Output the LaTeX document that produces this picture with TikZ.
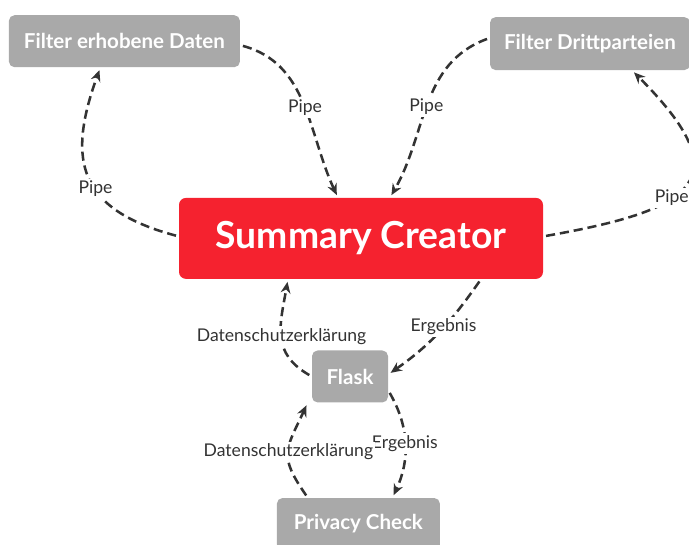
\documentclass[tikz,border=0pt]{standalone}
\usepackage{fontspec}
\setmainfont{Lato}
\usetikzlibrary{arrows.meta, positioning}
\definecolor{boxgrey}{HTML}{A9A9A9}
\definecolor{creatorred}{HTML}{F5222F}
\definecolor{linegrey}{HTML}{333333}

\begin{document}
\begin{tikzpicture}[
greybox/.style={rectangle, rounded corners=4pt, fill=boxgrey, text=white,
inner sep=2pt, minimum height=1.3cm, font=\fontsize{14.6}{17}\selectfont\bfseries},
redbox/.style={rectangle, rounded corners=5pt, fill=creatorred, text=white,
minimum width=9.1cm, minimum height=2.025cm, font=\fontsize{26.5}{31}\selectfont\bfseries},
arr/.style={-{Stealth[length=8pt, width=7pt]}, draw=linegrey, line width=1.8pt,
dash pattern=on 6.5pt off 3.5pt, shorten <=2pt, shorten >=2pt},
lbl/.style={fill=white, inner sep=1.5pt, text=linegrey, font=\fontsize{12.5}{14}\selectfont}
]
\useasboundingbox (0,0) rectangle (17.225,-13.625);

\node[redbox] (SC) at (9.025,-5.96) {Summary Creator};
\node[greybox, minimum width=5.775cm] (FE) at (3.11,-1.03) {Filter erhobene Daten};
\node[greybox, minimum width=5cm, minimum height=1.325cm] (FD) at (14.75,-1.09) {Filter Drittparteien};
\node[greybox, minimum width=1.9cm, below=1.775cm of SC, xshift=-0.275cm] (FL) {Flask};
\node[greybox, minimum width=4.075cm, below=2.375cm of FL, xshift=0.21cm] (PC) {Privacy Check};

\draw[arr] ([yshift=0.05cm]SC.west) to[out=165, in=-110, looseness=1.4]
node[lbl, pos=0.43] {Pipe} ([xshift=-0.6cm]FE.south);
\draw[arr] ([yshift=-0.1cm]FE.east) to[out=-15, in=115]
node[lbl, pos=0.52] {Pipe} ([xshift=-0.575cm]SC.north);
\draw[arr] ([yshift=0.14cm]FD.west) to[out=200, in=60]
node[lbl, pos=0.52] {Pipe} ([xshift=0.725cm]SC.north);
\draw[arr] ([yshift=0.05cm]SC.east) to[out=10, in=-45, looseness=2.1]
node[lbl, pos=0.4] {Pipe} ([xshift=1.05cm]FD.south);
\draw[arr] ([xshift=3.0cm]SC.south) to[out=-125, in=35]
node[lbl, pos=0.45] {Ergebnis} ([yshift=0.05cm]FL.east);
\draw[arr] (FL.west) to[out=150, in=-100, looseness=1.2]
node[lbl, pos=0.5] {Datenschutzerklärung} ([xshift=-1.825cm]SC.south);
\draw[arr] ([yshift=-0.35cm]FL.east) to[out=-60, in=65]
node[lbl, pos=0.5] {Ergebnis} ([xshift=0.85cm]PC.north);
\draw[arr] ([xshift=0.78cm]PC.north west) to[out=125, in=-115, looseness=1.4]
node[lbl, pos=0.5] {Datenschutzerklärung} ([xshift=-0.1cm]FL.south west);
\end{tikzpicture}
\end{document}
